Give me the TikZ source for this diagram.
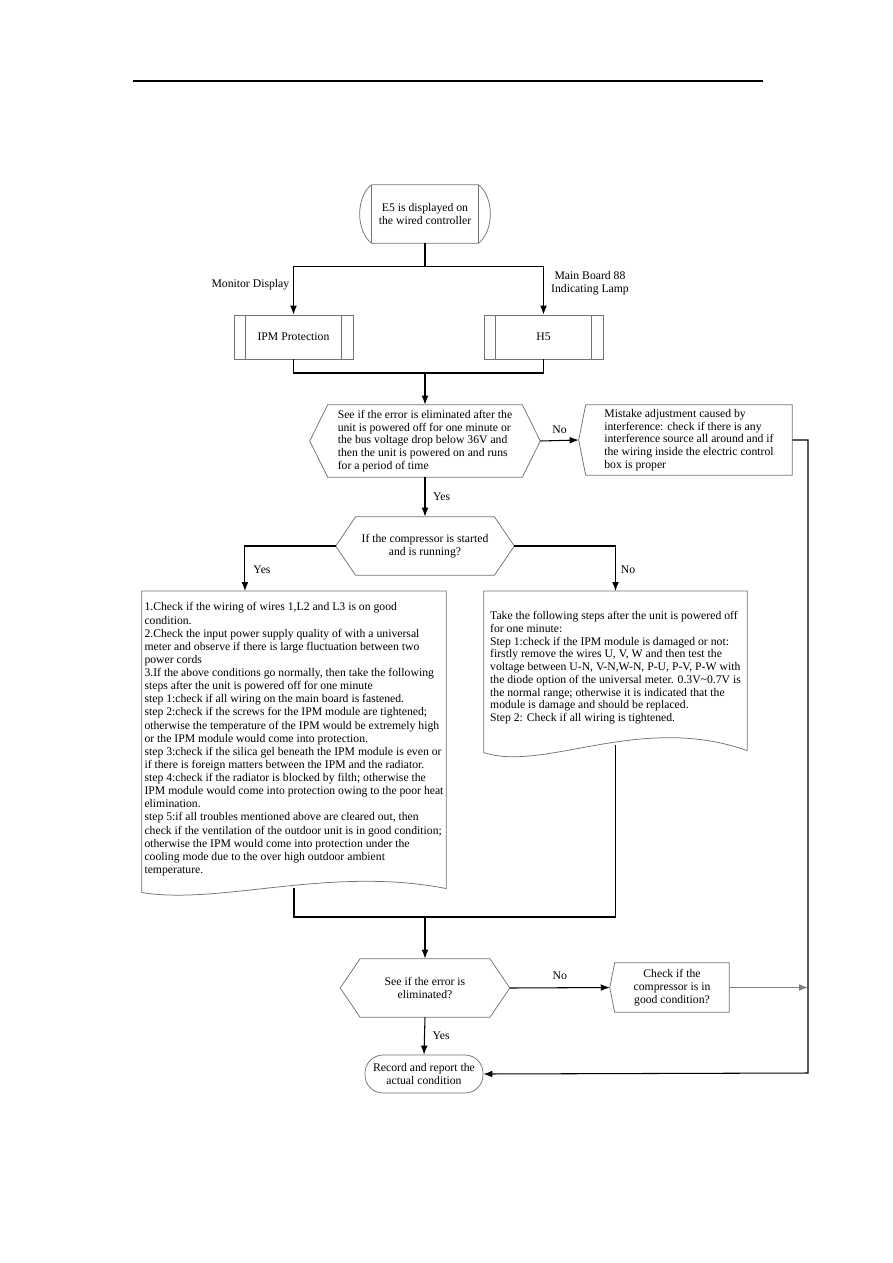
\documentclass[tikz,border=0pt]{standalone}
\usepackage{fontspec}
\setmainfont{Liberation Serif}
\usepackage{tikz}
\usetikzlibrary{arrows.meta, positioning, calc}

\begin{document}
\begin{tikzpicture}[
    x=0.6667pt, y=-0.6667pt,
    font=\fontsize{7.8}{8.5}\selectfont,
    fbox/.style={inner sep=0pt, align=center},
    process/.style={draw=black!55, line width=0.5pt, inner sep=0pt, align=center, minimum width=79.3pt, minimum height=29.3pt},
    outline/.style={draw=black!55, line width=0.5pt},
    lbl/.style={inner sep=1pt},
    arrow/.style={-{Latex[length=6pt,width=4.5pt]}, line width=0.7pt},
    line/.style={line width=0.7pt}
]
\useasboundingbox[fill=white] (0,0) rectangle (893,1263);

% page rule
\draw[line width=1pt] (133,81) -- (763,81);

% Start
\node[fbox, minimum width=70.7pt, minimum height=38.7pt] (e5) at (425,214) {E5 is displayed on\\the wired controller};
\draw[outline] (e5.north west) -- (e5.north east) .. controls +(16,12) and +(16,-12) .. (e5.south east)
    -- (e5.south west) .. controls +(-16,-12) and +(-16,12) .. (e5.north west);
\draw[outline] (e5.north west) -- (e5.south west);
\draw[outline] (e5.north east) -- (e5.south east);

% Row 2
\node[process] (ipm) at (293.5,337) {IPM Protection};
\draw[outline] ([xshift=8pt]ipm.north west) -- ([xshift=8pt]ipm.south west);
\draw[outline] ([xshift=-8pt]ipm.north east) -- ([xshift=-8pt]ipm.south east);

\node[process] (h5) at (543.5,337) {H5};
\draw[outline] ([xshift=8pt]h5.north west) -- ([xshift=8pt]h5.south west);
\draw[outline] ([xshift=-8pt]h5.north east) -- ([xshift=-8pt]h5.south east);

\node[lbl, anchor=east] (monlbl) at (291,285) {Monitor Display};
\node[lbl, align=center] (lamplbl) at (590,283) {Main Board 88\\Indicating Lamp};

% Decision 1
\node[fbox, align=left, minimum width=153.3pt, minimum height=48pt] (hex1) at (425,441)
    {See if the error is eliminated after the\\unit is powered off for one minute or\\the bus voltage drop below 36V and\\then the unit is powered on and runs\\for a period of time};
\draw[outline] (hex1.west) -- ([xshift=12pt]hex1.north west) -- ([xshift=-12pt]hex1.north east) -- (hex1.east)
    -- ([xshift=-12pt]hex1.south east) -- ([xshift=12pt]hex1.south west) -- cycle;

\node[fbox, align=left, minimum width=137.3pt, minimum height=46.7pt] (mist) at (689,440)
    {Mistake adjustment caused by\\interference: check if there is any\\interference source all around and if\\the wiring inside the electric control\\box is proper};
\draw[outline] (mist.north west) -- (mist.north east) -- (mist.south east) -- (mist.south west)
    -- ([xshift=-4.7pt]mist.west) -- cycle;

% Decision 2
\node[fbox, minimum width=118.7pt, minimum height=38.7pt] (hex2) at (425,546)
    {If the compressor is started\\and is running?};
\draw[outline] (hex2.west) -- ([xshift=13.3pt]hex2.north west) -- ([xshift=-13.3pt]hex2.north east) -- (hex2.east)
    -- ([xshift=-13.3pt]hex2.south east) -- ([xshift=13.3pt]hex2.south west) -- cycle;

% Documents
\node[fbox, align=left, font=\fontsize{7.8}{8.75}\selectfont, minimum width=202.7pt, minimum height=197.3pt, anchor=north] (ldoc) at (294,591)
    {1.Check if the wiring of wires 1,L2 and L3 is on good\\condition.\\2.Check the input power supply quality of with a universal\\meter and observe if there is large fluctuation between two\\power cords\\3.If the above conditions go normally, then take the following\\steps after the unit is powered off for one minute\\step 1:check if all wiring on the main board is fastened.\\step 2:check if the screws for the IPM module are tightened;\\otherwise the temperature of the IPM would be extremely high\\or the IPM module would come into protection.\\step 3:check if the silica gel beneath the IPM module is even or\\if there is foreign matters between the IPM and the radiator.\\step 4:check if the radiator is blocked by filth; otherwise the\\IPM module would come into protection owing to the poor heat\\elimination.\\step 5:if all troubles mentioned above are cleared out, then\\check if the ventilation of the outdoor unit is in good condition;\\otherwise the IPM would come into protection under the\\cooling mode due to the over high outdoor ambient\\temperature.};
\draw[outline] ([yshift=-3.3pt]ldoc.south west) .. controls +(78,13) and +(-116,-23) .. ([yshift=-0.7pt]ldoc.south east)
    -- (ldoc.north east) -- (ldoc.north west) -- cycle;

\node[fbox, align=left, minimum width=175.3pt, minimum height=102pt, anchor=north] (rdoc) at (615.5,591)
    {Take the following steps after the unit is powered off\\for one minute:\\Step 1:check if the IPM module is damaged or not:\\firstly remove the wires U, V, W and then test the\\voltage between U-N, V-N,W-N, P-U, P-V, P-W with\\the diode option of the universal meter. 0.3V\textasciitilde0.7V is\\the normal range; otherwise it is indicated that the\\module is damage and should be replaced.\\Step 2: Check if all wiring is tightened.};
\draw[outline] ([yshift=-5.3pt]rdoc.south west) .. controls +(61,20) and +(-107,-38) .. ([yshift=-4pt]rdoc.south east)
    -- (rdoc.north east) -- (rdoc.north west) -- cycle;

% Decision 3
\node[fbox, minimum width=112.7pt, minimum height=38.7pt] (hex3) at (425,988)
    {See if the error is\\eliminated?};
\draw[outline] (hex3.west) -- ([xshift=13.3pt]hex3.north west) -- ([xshift=-13.3pt]hex3.north east) -- (hex3.east)
    -- ([xshift=-13.3pt]hex3.south east) -- ([xshift=13.3pt]hex3.south west) -- cycle;

\node[fbox, minimum width=76pt, minimum height=32.7pt] (chk) at (672,987.5)
    {Check if the\\compressor is in\\good condition?};
\draw[outline] (chk.north west) -- (chk.north east) -- (chk.south east) -- (chk.south west)
    -- ([xshift=-3.3pt]chk.west) -- cycle;

% End
\node[fbox, draw=black!55, line width=0.5pt, rounded corners=12pt, minimum width=78.7pt, minimum height=25.3pt] (rec) at (424,1074)
    {Record and report the\\actual condition};

% Junctions
\coordinate (j1) at (425,373);
\coordinate (j2) at (425,917);
\coordinate (rail) at (808,1073);

% Arrows
\draw[arrow] (e5.south) -- ++(0,23) -| (ipm.north);
\draw[arrow] (e5.south) -- ++(0,23) -| (h5.north);
\draw[line] (ipm.south) |- (j1) -| (h5.south);
\draw[arrow] (j1) -- (hex1.north);
\draw[arrow] (hex1.east) -- node[lbl, above=3pt] (no1) {No} ([xshift=-4.7pt]mist.west);
\draw[arrow] (mist.east) -| (rail) -- (rec.east);
\draw[arrow] (hex1.south) -- node[lbl, right=4pt, pos=0.5] (yes1) {Yes} (hex2.north);
\draw[arrow] (hex2.west) -| ([xshift=-32.7pt]ldoc.north);
\node[lbl] (yes2) at (262,570) {Yes};
\draw[arrow] (hex2.east) -| (rdoc.north);
\node[lbl] (no2) at (628,570) {No};
\draw[line] (ldoc.south) |- (j2);
\draw[line] (rdoc.south) |- (j2);
\draw[arrow] (j2) -- (hex3.north);
\draw[arrow] (hex3.east) -- node[lbl, above=4pt] (no3) {No} ([xshift=-3.3pt]chk.west);
\draw[arrow, draw=black!50] (chk.east) -- (chk.east -| rail);
\draw[arrow] (hex3.south) -- node[lbl, right=4pt] (yes3) {Yes} (rec.north);

\end{tikzpicture}
\end{document}
